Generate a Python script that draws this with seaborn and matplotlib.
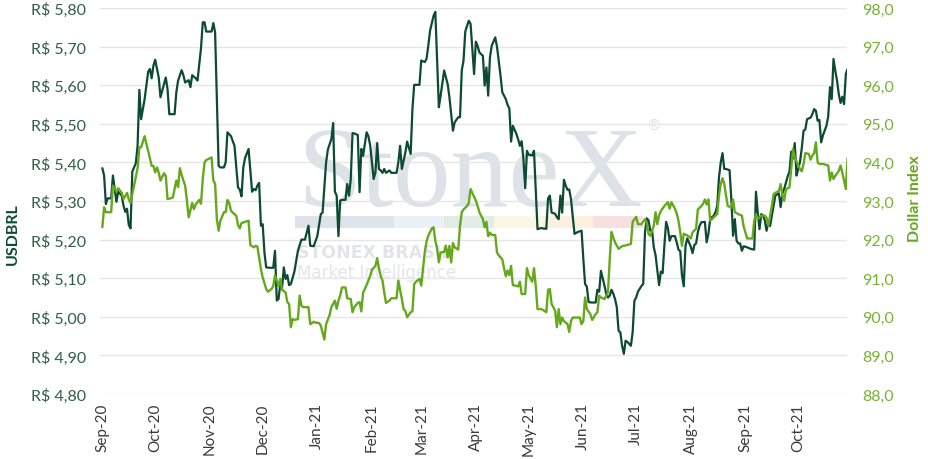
import pandas as pd
import matplotlib
matplotlib.use("Agg")
import matplotlib.pyplot as plt
import matplotlib.dates as mdates
from matplotlib.patches import Rectangle
from matplotlib.ticker import FuncFormatter, MultipleLocator
import seaborn as sns

START = pd.Timestamp("2020-09-01")

# days after START, USDBRL close
usd_days = [
    0, 1, 2, 3, 5, 6, 8, 9, 11, 12, 13, 14, 15, 16, 17, 19, 20, 21, 22, 24,
    26, 27, 28, 29, 30, 32, 33, 35, 36, 37, 38, 41, 42, 43, 45, 46, 47, 49, 50, 51,
    53, 54, 56, 57, 58, 59, 62, 63, 64, 66, 67, 69, 70, 71, 73, 75, 77, 78, 79, 80,
    81, 83, 84, 85, 86, 87, 88, 89, 90, 91, 92, 93, 95, 97, 98, 99, 100, 101, 102, 103,
    104, 105, 106, 107, 109, 111, 113, 115, 117, 118, 120, 122, 124, 125, 127, 128, 130, 131, 132, 133,
    134, 135, 136, 138, 139, 140, 141, 142, 143, 145, 146, 147, 148, 150, 151, 152, 154, 155, 156, 157,
    158, 159, 160, 161, 163, 164, 167, 168, 169, 170, 172, 173, 175, 176, 177, 180, 181, 183, 184, 185,
    186, 188, 189, 191, 192, 194, 196, 197, 199, 200, 202, 203, 204, 205, 206, 207, 208, 209, 211, 212,
    213, 214, 216, 217, 218, 219, 220, 221, 223, 224, 226, 227, 229, 230, 231, 232, 233, 235, 236, 237,
    238, 239, 240, 241, 242, 244, 245, 246, 247, 249, 250, 252, 253, 254, 255, 257, 258, 259, 260, 261,
    262, 263, 264, 265, 266, 268, 270, 272, 273, 274, 275, 276, 278, 280, 281, 282, 283, 284, 285, 286,
    287, 288, 289, 290, 291, 292, 293, 294, 295, 296, 297, 298, 300, 301, 302, 303, 304, 306, 307, 308,
    309, 310, 311, 312, 313, 314, 316, 317, 318, 319, 320, 321, 322, 323, 325, 326, 327, 328, 329, 330,
    331, 332, 334, 335, 336, 337, 338, 339, 340, 342, 343, 344, 345, 346, 347, 348, 349, 350, 351, 352,
    353, 354, 356, 357, 358, 359, 360, 361, 362, 363, 364, 366, 368, 370, 371, 372, 373, 374, 375, 376,
    377, 378, 379, 380, 381, 382, 384, 385, 386, 387, 388, 389, 390, 391, 392, 393, 394, 395, 396, 397,
    398, 399, 400, 402, 403, 404, 405, 406, 407, 408, 409, 411, 412, 413, 414, 415, 416, 417, 418, 419,
    420, 421, 422, 423,
]
usd_vals = [
    5.385, 5.366, 5.292, 5.307, 5.307, 5.366, 5.298, 5.324, 5.314, 5.288, 5.272, 5.280, 5.238, 5.229, 5.376, 5.398, 5.443, 5.588, 5.512, 5.564,
    5.635, 5.642, 5.618, 5.651, 5.666, 5.620, 5.569, 5.603, 5.620, 5.590, 5.525, 5.525, 5.582, 5.612, 5.639, 5.626, 5.607, 5.613, 5.595, 5.626,
    5.618, 5.612, 5.696, 5.763, 5.763, 5.739, 5.739, 5.761, 5.737, 5.391, 5.387, 5.387, 5.400, 5.478, 5.468, 5.443, 5.335, 5.330, 5.312, 5.387,
    5.411, 5.435, 5.380, 5.324, 5.331, 5.328, 5.340, 5.347, 5.236, 5.240, 5.167, 5.128, 5.127, 5.127, 5.171, 5.042, 5.046, 5.085, 5.075, 5.128,
    5.098, 5.108, 5.082, 5.085, 5.117, 5.171, 5.200, 5.200, 5.236, 5.184, 5.183, 5.209, 5.266, 5.270, 5.400, 5.433, 5.461, 5.502, 5.324, 5.314,
    5.209, 5.301, 5.303, 5.303, 5.344, 5.314, 5.357, 5.476, 5.475, 5.471, 5.323, 5.435, 5.417, 5.478, 5.468, 5.445, 5.357, 5.374, 5.450, 5.383,
    5.379, 5.373, 5.383, 5.373, 5.379, 5.373, 5.373, 5.400, 5.443, 5.383, 5.426, 5.454, 5.422, 5.538, 5.601, 5.601, 5.664, 5.660, 5.668, 5.702,
    5.741, 5.780, 5.790, 5.543, 5.573, 5.638, 5.603, 5.569, 5.482, 5.504, 5.517, 5.517, 5.638, 5.664, 5.739, 5.754, 5.767, 5.759, 5.629, 5.713,
    5.702, 5.685, 5.676, 5.599, 5.646, 5.573, 5.672, 5.702, 5.724, 5.700, 5.625, 5.582, 5.564, 5.549, 5.540, 5.454, 5.495, 5.474, 5.460, 5.443,
    5.455, 5.409, 5.333, 5.430, 5.420, 5.418, 5.430, 5.331, 5.227, 5.230, 5.229, 5.228, 5.307, 5.314, 5.270, 5.267, 5.258, 5.253, 5.314, 5.270,
    5.355, 5.340, 5.329, 5.330, 5.305, 5.215, 5.220, 5.223, 5.150, 5.085, 5.078, 5.038, 5.037, 5.037, 5.070, 5.065, 5.119, 5.100, 5.081, 5.059,
    5.050, 5.055, 5.070, 5.060, 5.046, 5.025, 4.964, 4.960, 4.925, 4.904, 4.938, 4.935, 4.925, 4.960, 5.042, 5.050, 5.065, 5.080, 5.085, 5.219,
    5.255, 5.250, 5.223, 5.225, 5.180, 5.160, 5.082, 5.117, 5.113, 5.184, 5.246, 5.230, 5.197, 5.209, 5.209, 5.193, 5.174, 5.170, 5.107, 5.079,
    5.184, 5.203, 5.182, 5.165, 5.186, 5.190, 5.219, 5.236, 5.245, 5.246, 5.193, 5.215, 5.253, 5.258, 5.262, 5.271, 5.288, 5.361, 5.400, 5.424,
    5.383, 5.383, 5.380, 5.305, 5.210, 5.253, 5.197, 5.190, 5.190, 5.171, 5.183, 5.180, 5.176, 5.174, 5.324, 5.270, 5.227, 5.266, 5.262, 5.250,
    5.223, 5.247, 5.235, 5.262, 5.288, 5.314, 5.320, 5.284, 5.320, 5.331, 5.347, 5.364, 5.376, 5.428, 5.410, 5.450, 5.366, 5.383, 5.402, 5.437,
    5.482, 5.485, 5.512, 5.516, 5.525, 5.538, 5.534, 5.508, 5.510, 5.452, 5.470, 5.495, 5.519, 5.595, 5.564, 5.668, 5.638, 5.612, 5.577, 5.554,
    5.570, 5.551, 5.629, 5.642,
]

# days after START, Dollar Index (DXY)
dxy_days = [
    0, 1, 2, 5, 6, 8, 9, 11, 12, 14, 15, 16, 18, 20, 21, 22, 24, 25, 26, 28,
    29, 30, 31, 32, 33, 35, 36, 37, 38, 40, 42, 43, 44, 45, 46, 47, 48, 49, 51, 52,
    53, 55, 56, 57, 58, 59, 62, 63, 64, 65, 66, 67, 69, 70, 71, 72, 73, 74, 76, 77,
    78, 79, 81, 83, 84, 86, 87, 88, 90, 91, 93, 94, 96, 97, 98, 100, 101, 102, 104, 105,
    106, 107, 108, 109, 111, 112, 113, 114, 117, 118, 120, 121, 123, 124, 126, 127, 129, 130, 132, 133,
    134, 135, 136, 138, 139, 141, 142, 143, 145, 146, 147, 148, 149, 151, 152, 153, 155, 156, 157, 158,
    159, 160, 161, 163, 164, 167, 168, 170, 171, 172, 173, 175, 176, 177, 178, 180, 181, 182, 183, 184,
    185, 187, 188, 189, 190, 191, 192, 193, 194, 195, 196, 197, 198, 199, 200, 202, 203, 204, 205, 207,
    208, 209, 210, 212, 213, 214, 216, 217, 218, 219, 220, 221, 223, 224, 225, 227, 228, 229, 230, 231,
    232, 233, 235, 236, 237, 238, 240, 241, 242, 244, 245, 246, 247, 249, 250, 252, 253, 254, 255, 256,
    257, 258, 259, 260, 261, 262, 264, 265, 266, 267, 271, 272, 273, 274, 275, 277, 278, 280, 281, 282,
    283, 285, 287, 288, 289, 290, 291, 293, 295, 298, 300, 301, 303, 304, 306, 308, 309, 310, 311, 313,
    314, 315, 316, 317, 319, 321, 322, 323, 325, 326, 327, 328, 329, 330, 332, 334, 335, 337, 338, 340,
    341, 342, 343, 344, 345, 346, 348, 349, 350, 351, 352, 353, 354, 355, 357, 358, 359, 361, 363, 364,
    366, 369, 370, 371, 372, 374, 376, 377, 378, 380, 381, 383, 384, 385, 386, 387, 388, 389, 390, 391,
    392, 393, 395, 396, 397, 398, 399, 401, 402, 403, 404, 405, 406, 407, 409, 412, 413, 414, 415, 416,
    418, 419, 420, 422, 423,
]
dxy_vals = [
    92.32, 92.84, 92.71, 92.71, 93.40, 93.24, 93.33, 93.21, 93.05, 93.21, 93.05, 92.95, 93.40, 93.85, 94.39, 94.39, 94.68, 94.48, 94.30, 93.91,
    93.91, 93.74, 93.87, 93.74, 93.53, 93.72, 93.65, 93.05, 93.06, 93.09, 93.53, 93.36, 93.85, 93.68, 93.53, 93.40, 93.01, 92.58, 92.95, 92.79,
    92.91, 93.03, 92.93, 93.57, 94.00, 94.06, 94.13, 93.53, 93.45, 92.53, 92.23, 92.49, 92.71, 92.71, 93.03, 92.95, 92.75, 92.70, 92.62, 92.38,
    92.29, 92.43, 92.46, 92.49, 91.86, 91.80, 91.84, 91.82, 91.24, 91.02, 90.72, 90.65, 90.72, 90.79, 91.08, 90.80, 90.98, 90.70, 90.63, 90.38,
    90.33, 89.73, 89.94, 89.92, 89.94, 90.55, 90.29, 90.25, 90.25, 89.81, 89.87, 89.85, 89.84, 89.77, 89.41, 89.81, 90.05, 90.25, 90.42, 90.21,
    90.42, 90.55, 90.76, 90.76, 90.48, 90.46, 90.12, 90.25, 90.36, 90.38, 90.14, 90.63, 90.72, 90.94, 91.06, 91.22, 91.32, 91.52, 91.26, 91.06,
    90.94, 90.63, 90.36, 90.42, 90.48, 90.48, 90.94, 90.46, 90.20, 90.15, 89.99, 90.12, 90.14, 90.85, 90.91, 90.98, 90.81, 91.24, 91.67, 91.95,
    92.10, 92.29, 92.32, 91.97, 91.77, 91.41, 91.67, 91.67, 91.68, 91.84, 91.54, 91.84, 91.41, 91.91, 91.80, 91.74, 92.36, 92.71, 92.78, 92.87,
    92.95, 93.31, 93.21, 93.01, 92.87, 92.71, 92.53, 92.32, 92.46, 92.09, 92.18, 92.12, 92.12, 91.67, 91.59, 91.49, 91.26, 91.05, 91.20, 91.08,
    91.32, 90.82, 90.80, 90.79, 90.91, 90.59, 90.59, 91.26, 91.08, 90.91, 91.26, 90.80, 90.20, 90.20, 90.18, 90.12, 90.70, 90.72, 90.33, 90.25,
    90.16, 89.73, 90.20, 89.81, 89.98, 89.89, 89.81, 89.61, 89.89, 89.98, 89.98, 89.81, 89.89, 90.50, 90.20, 90.07, 89.92, 90.07, 90.12, 90.55,
    90.50, 90.46, 90.63, 91.50, 92.20, 92.05, 91.93, 91.76, 91.83, 91.86, 91.89, 92.46, 92.59, 92.40, 92.40, 92.53, 92.44, 92.15, 92.10, 92.36,
    92.71, 92.40, 92.63, 92.74, 92.87, 92.97, 92.80, 92.97, 92.80, 92.68, 92.49, 92.19, 91.84, 92.15, 92.11, 92.03, 92.19, 92.28, 92.78, 92.87,
    92.93, 93.04, 92.91, 93.04, 92.49, 92.53, 92.62, 92.66, 93.14, 93.44, 93.59, 93.44, 93.14, 92.87, 92.83, 93.04, 92.71, 92.66, 92.62, 92.34,
    92.03, 92.03, 92.49, 92.66, 92.53, 92.62, 92.62, 92.57, 92.36, 92.87, 93.18, 93.24, 93.26, 93.44, 93.14, 93.01, 93.30, 93.33, 93.35, 93.83,
    94.35, 94.14, 93.92, 93.83, 93.77, 93.96, 94.24, 94.22, 94.07, 94.18, 94.24, 94.52, 94.00, 93.96, 93.96, 93.92, 93.53, 93.74, 93.57, 93.65,
    93.78, 93.92, 93.74, 93.31, 94.11,
]

DARK = "#0d4a32"
LIGHT = "#66a81d"

usd = pd.DataFrame({"date": START + pd.to_timedelta(usd_days, unit="D"), "usdbrl": usd_vals})
dxy = pd.DataFrame({"date": START + pd.to_timedelta(dxy_days, unit="D"), "dxy": dxy_vals})

sns.set_theme(style="white")
plt.rcParams["font.family"] = ["Lato", "DejaVu Sans"]

fig = plt.figure(figsize=(9.29, 4.60), dpi=100)
ax = fig.add_axes([0.1077, 0.1413, 0.8041, 0.8391])
ax2 = ax.twinx()

# watermark behind everything
wm = "#dde2e8"
ax.text(0.264, 0.49, "StoneX", transform=ax.transAxes, fontsize=83,
        family="Liberation Serif", color=wm, zorder=0, va="baseline")
ax.text(0.733, 0.685, "®", transform=ax.transAxes, fontsize=11, color=wm, zorder=0)
band = ["#dfe3e9", "#dee4ec", "#eaf1f8", "#e2ece4", "#fcf7e5", "#fdf0df", "#f6e0e0"]
for i, c in enumerate(band):
    ax.add_patch(Rectangle((0.261 + i * 0.0665, 0.43), 0.0665, 0.031,
                           transform=ax.transAxes, color=c, zorder=0, lw=0))
ax.text(0.264, 0.368, "STONEX BRASIL", transform=ax.transAxes, fontsize=12.5,
        family="DejaVu Sans", fontweight="bold", color="#e1e4e9", zorder=0, va="center")
ax.text(0.264, 0.316, "Market Intelligence", transform=ax.transAxes, fontsize=12,
        family="DejaVu Sans", color="#e4e6ea", zorder=0, va="center")

sns.lineplot(data=usd, x="date", y="usdbrl", ax=ax, color=DARK, linewidth=1.6)
sns.lineplot(data=dxy, x="date", y="dxy", ax=ax2, color=LIGHT, linewidth=1.7)

ax.set_ylim(4.8, 5.8)
ax2.set_ylim(88, 98)
ax.yaxis.set_major_locator(MultipleLocator(0.1))
ax2.yaxis.set_major_locator(MultipleLocator(1))
ax.yaxis.set_major_formatter(FuncFormatter(lambda v, p: "R$ " + f"{v:.2f}".replace(".", ",")))
ax2.yaxis.set_major_formatter(FuncFormatter(lambda v, p: f"{v:.1f}".replace(".", ",")))

ax.set_xlim(START - pd.Timedelta(days=1.3), START + pd.Timedelta(days=422.7))
ax.xaxis.set_major_locator(mdates.MonthLocator())
ax.xaxis.set_major_formatter(mdates.DateFormatter("%b-%y"))

ax.grid(axis="y", color="#e6e6e6", linewidth=1)
ax.set_axisbelow(True)
for a in (ax, ax2):
    for s in a.spines.values():
        s.set_visible(False)
    a.tick_params(length=0)

ax.tick_params(axis="y", labelsize=11.5, labelcolor="#2f5e4a", pad=10)
ax2.tick_params(axis="y", labelsize=11.5, labelcolor="#78b234", pad=11)
ax.tick_params(axis="x", labelsize=11, labelcolor="#3a3a3a", pad=6, labelrotation=90)

ax.set_xlabel("")
ax.set_ylabel("USDBRL", fontsize=11.5, fontweight="bold", color=DARK)
ax2.set_ylabel("Dollar Index", fontsize=11.5, fontweight="bold", color=LIGHT)
ax.yaxis.set_label_coords(-0.107, 0.417)
ax2.yaxis.set_label_coords(1.082, 0.508)

fig.savefig("out.png", dpi=100)
